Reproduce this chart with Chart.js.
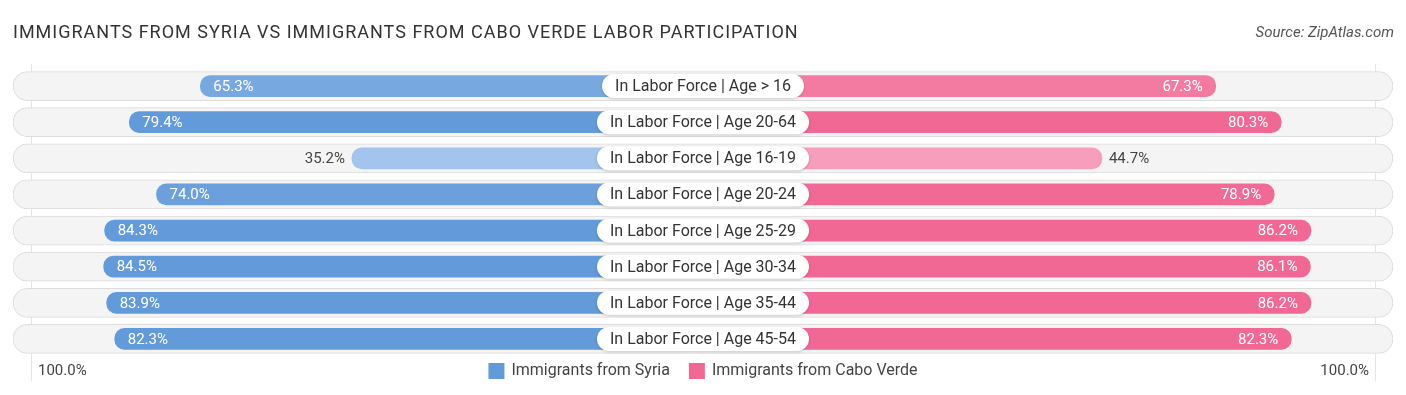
<!DOCTYPE html>
<html lang="en">
<head>
<meta charset="UTF-8">
<title>Labor Participation</title>
<script src="https://cdn.jsdelivr.net/npm/chart.js"></script>
<style>
  html, body { margin: 0; padding: 0; background: #fff; }
  #wrap { width: 1406px; height: 395px; position: relative; }
</style>
</head>
<body>
<div id="wrap"><canvas id="myChart"></canvas></div>
<script>
// data
const categories = [
  'In Labor Force | Age > 16',
  'In Labor Force | Age 20-64',
  'In Labor Force | Age 16-19',
  'In Labor Force | Age 20-24',
  'In Labor Force | Age 25-29',
  'In Labor Force | Age 30-34',
  'In Labor Force | Age 35-44',
  'In Labor Force | Age 45-54'
];
const syria = [65.3, 79.4, 35.2, 74.0, 84.3, 84.5, 83.9, 82.3];
const caboVerde = [67.3, 80.3, 44.7, 78.9, 86.2, 86.1, 86.2, 82.3];
const seriesNames = ['Immigrants from Syria', 'Immigrants from Cabo Verde'];
const axisLabels = ['100.0%', '100.0%'];

const OFF = 34.5;   // room kept for the centre label, in axis units
const SPAN = 137;

const FONT = 'Roboto, "Noto Sans", sans-serif';

function mix(a, b, t) {
  const r = Math.round(a[0] + (b[0] - a[0]) * t);
  const g = Math.round(a[1] + (b[1] - a[1]) * t);
  const bl = Math.round(a[2] + (b[2] - a[2]) * t);
  return 'rgb(' + r + ',' + g + ',' + bl + ')';
}
function shade(light, dark, v) {
  let t = (v - 30) / 50;
  t = Math.max(0, Math.min(1, t));
  return mix(light, dark, t);
}
const blueLight = [170, 201, 238], blueDark = [98, 154, 218];
const pinkLight = [248, 180, 203], pinkDark = [241, 104, 148];

const overlay = {
  id: 'overlay',
  beforeDatasetsDraw(chart) {
    const ctx = chart.ctx, x = chart.scales.x, a = chart.chartArea;
    ctx.save();
    ctx.strokeStyle = '#e4e4e4';
    ctx.lineWidth = 1;
    [-(OFF + 99), OFF + 99].forEach(v => {
      const px = Math.round(x.getPixelForValue(v)) + 0.5;
      ctx.beginPath();
      ctx.moveTo(px, a.top - 4);
      ctx.lineTo(px, a.bottom + 24);
      ctx.stroke();
    });
    ctx.restore();
  },
  afterDatasetsDraw(chart) {
    const ctx = chart.ctx, y = chart.scales.y, x = chart.scales.x;
    ctx.save();
    // value labels
    [[1, syria, -1], [2, caboVerde, 1]].forEach(([di, vals, dir]) => {
      const meta = chart.getDatasetMeta(di);
      meta.data.forEach((el, i) => {
        const v = vals[i];
        const end = el.x;
        const txt = v.toFixed(1) + '%';
        ctx.font = '15px ' + FONT;
        ctx.textBaseline = 'middle';
        if (v >= 50) {
          ctx.fillStyle = '#ffffff';
          ctx.textAlign = dir < 0 ? 'left' : 'right';
          ctx.fillText(txt, end - dir * 13, el.y + 1);
        } else {
          ctx.fillStyle = '#444444';
          ctx.textAlign = dir < 0 ? 'right' : 'left';
          ctx.fillText(txt, end + dir * 7, el.y + 1);
        }
      });
    });
    // centre labels
    const cx = x.getPixelForValue(0);
    categories.forEach((c, i) => {
      const cy = y.getPixelForValue(i);
      ctx.font = '16px ' + FONT;
      const w = ctx.measureText(c).width + 26;
      const h = 24;
      ctx.shadowColor = 'rgba(0,0,0,0.18)';
      ctx.shadowBlur = 3;
      ctx.shadowOffsetY = 1;
      ctx.fillStyle = '#ffffff';
      ctx.beginPath();
      ctx.roundRect(cx - w / 2, cy - h / 2, w, h, h / 2);
      ctx.fill();
      ctx.shadowColor = 'transparent';
      ctx.fillStyle = '#333333';
      ctx.textAlign = 'center';
      ctx.textBaseline = 'middle';
      ctx.fillText(c, cx, cy + 1);
    });
    ctx.restore();
  },
  afterDraw(chart) {
    const ctx = chart.ctx, W = chart.width;
    ctx.save();
    ctx.textBaseline = 'middle';
    ctx.fillStyle = '#333333';
    ctx.font = '18px ' + FONT;
    ctx.textAlign = 'left';
    ctx.letterSpacing = '1px';
    ctx.fillText('IMMIGRANTS FROM SYRIA VS IMMIGRANTS FROM CABO VERDE LABOR PARTICIPATION', 13, 33);
    ctx.letterSpacing = '0px';
    ctx.font = 'italic 15px ' + FONT;
    ctx.fillStyle = '#555555';
    ctx.textAlign = 'right';
    ctx.fillText('Source: ZipAtlas.com', W - 12, 33);

    const ly = 371;
    ctx.font = '15px ' + FONT;
    ctx.fillStyle = '#444444';
    ctx.textAlign = 'left';
    ctx.fillText(axisLabels[0], 38, ly);
    ctx.textAlign = 'right';
    ctx.fillText(axisLabels[1], 1369, ly);

    // legend
    ctx.font = '16px ' + FONT;
    const cols = [mix(blueLight, blueDark, 1), mix(pinkLight, pinkDark, 1)];
    const widths = seriesNames.map(s => ctx.measureText(s).width);
    const box = 16, gap = 7, between = 19;
    const total = box + gap + widths[0] + between + box + gap + widths[1];
    let lx = W / 2 - total / 2;
    ctx.textAlign = 'left';
    seriesNames.forEach((s, i) => {
      ctx.fillStyle = cols[i];
      ctx.fillRect(lx, ly - box / 2, box, box);
      lx += box + gap;
      ctx.fillStyle = '#444444';
      ctx.fillText(s, lx, ly);
      lx += widths[i] + between;
    });
    ctx.restore();
  }
};

const ctx = document.getElementById('myChart').getContext('2d');
new Chart(ctx, {
  type: 'bar',
  data: {
    labels: categories,
    datasets: [
      {
        label: 'bg',
        data: categories.map(() => [-SPAN, SPAN]),
        backgroundColor: '#f4f4f4',
        borderColor: '#dcdcdc',
        borderWidth: 1,
        borderSkipped: false,
        borderRadius: 15,
        barThickness: 29,
        grouped: false,
        order: 10
      },
      {
        label: seriesNames[0],
        data: syria.map(v => [-(OFF + v), 0]),
        backgroundColor: syria.map(v => shade(blueLight, blueDark, v)),
        borderSkipped: false,
        borderRadius: 10,
        barThickness: 21,
        grouped: false,
        order: 1
      },
      {
        label: seriesNames[1],
        data: caboVerde.map(v => [0, OFF + v]),
        backgroundColor: caboVerde.map(v => shade(pinkLight, pinkDark, v)),
        borderSkipped: false,
        borderRadius: 10,
        barThickness: 21,
        grouped: false,
        order: 1
      }
    ]
  },
  options: {
    indexAxis: 'y',
    responsive: true,
    maintainAspectRatio: false,
    animation: false,
    layout: { padding: { left: 13, right: 13, top: 68, bottom: 38 } },
    scales: {
      x: { display: false, min: -SPAN, max: SPAN },
      y: { display: false }
    },
    plugins: {
      legend: { display: false },
      tooltip: { enabled: false }
    }
  },
  plugins: [overlay]
});
</script>
</body>
</html>
